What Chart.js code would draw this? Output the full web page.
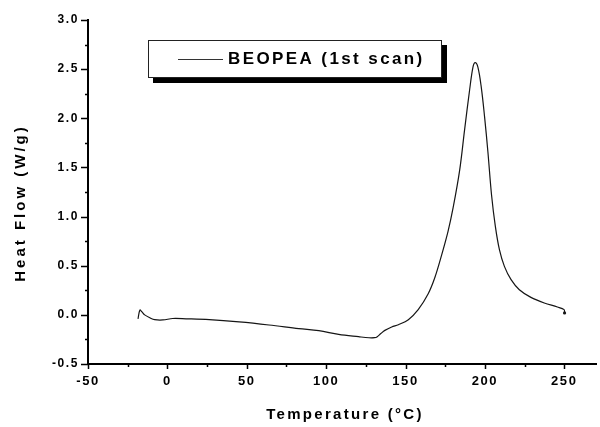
<!DOCTYPE html>
<html>
<head>
<meta charset="utf-8">
<script src="https://cdn.jsdelivr.net/npm/chart.js@4"></script>
<style>
  html,body{margin:0;padding:0;background:#fff;}
  #wrap{width:600px;height:427px;position:relative;}
</style>
</head>
<body>
<div id="wrap"><canvas id="dsc"></canvas></div>
<script>
/* DATA: DSC trace */
const temps = [-18.5, -17.3, -16.0, -14.3, -11.0, -8.0, -2.8, 3.4, 11.8, 26.4, 45.2, 64.0, 82.8, 95.4,
  107.9, 120.4, 127.0, 130.5, 132.0, 134.5, 137.0, 141.3, 145.5, 151.8, 158.0, 164.3, 168.5, 172.6,
  176.8, 180.0, 184.1, 187.2, 190.4, 192.5, 193.9, 195.6, 197.7, 199.8, 201.9, 204.2, 206.6, 209.2,
  212.3, 216.5, 221.7, 229.0, 237.4, 245.7, 249.9, 250.2];
const heatFlow = [-0.04, 0.05, 0.03, 0.0, -0.03, -0.049, -0.052, -0.037, -0.04, -0.049, -0.072, -0.103, -0.14, -0.161,
  -0.198, -0.222, -0.233, -0.232, -0.225, -0.19, -0.158, -0.123, -0.10, -0.049, 0.053, 0.215, 0.38, 0.60,
  0.85, 1.09, 1.47, 1.88, 2.29, 2.52, 2.566, 2.52, 2.32, 2.017, 1.66, 1.22, 0.90, 0.66,
  0.493, 0.358, 0.256, 0.178, 0.121, 0.080, 0.053, 0.02];
const xTicks = [-50, -25, 0, 25, 50, 75, 100, 125, 150, 175, 200, 225, 250];
const yTicks = [-0.5, -0.25, 0, 0.25, 0.5, 0.75, 1.0, 1.25, 1.5, 1.75, 2.0, 2.25, 2.5, 2.75, 3.0];
const seriesLabel = 'BEOPEA (1st scan)';
const xTitle = 'Temperature (\u00B0C)';
const yTitle = 'Heat Flow (W/g)';

const FONT = '"Liberation Sans", Arial, sans-serif';

/* tick marks, titles and boxed legend */
const decor = {
  id: 'decor',
  beforeDraw(chart){
    chart.ctx.letterSpacing = '1.6px';
  },
  afterDraw(chart){
    const {ctx, scales:{x, y}, chartArea:a} = chart;
    ctx.save();
    ctx.strokeStyle = '#000';
    ctx.lineWidth = 1.5;
    ctx.beginPath();
    xTicks.forEach(v=>{
      const px = Math.round(x.getPixelForValue(v)) + 0.5;
      const len = v % 50 === 0 ? 5 : 3;
      ctx.moveTo(px, a.bottom); ctx.lineTo(px, a.bottom + len);
    });
    yTicks.forEach(v=>{
      const py = Math.round(y.getPixelForValue(v)) + 0.5;
      const len = Math.round(v*4) % 2 === 0 ? 7 : 3;
      ctx.moveTo(a.left, py); ctx.lineTo(a.left - len, py);
    });
    ctx.stroke();

    // axis titles
    ctx.fillStyle = '#000';
    ctx.font = 'bold 15px ' + FONT;
    ctx.letterSpacing = '2.3px';
    ctx.textAlign = 'center';
    ctx.textBaseline = 'alphabetic';
    ctx.fillText(xTitle, (a.left + a.right)/2 + 3, 419);
    ctx.save();
    ctx.translate(25, 203);
    ctx.rotate(-Math.PI/2);
    ctx.letterSpacing = '3px';
    ctx.fillText(yTitle, 0, 0);
    ctx.restore();

    // legend box with drop shadow
    const bx = 148, by = 40, bw = 294, bh = 38;
    ctx.fillStyle = '#000';
    ctx.fillRect(bx + 5, by + 5, bw, bh);
    ctx.fillStyle = '#fff';
    ctx.fillRect(bx, by, bw, bh);
    ctx.lineWidth = 1;
    ctx.strokeStyle = '#222';
    ctx.strokeRect(bx + 0.5, by + 0.5, bw - 1, bh - 1);
    ctx.strokeStyle = '#333';
    ctx.beginPath();
    ctx.moveTo(178, 59.5); ctx.lineTo(223, 59.5);
    ctx.stroke();
    ctx.fillStyle = '#000';
    ctx.font = 'bold 17px ' + FONT;
    ctx.letterSpacing = '2.4px';
    ctx.textAlign = 'left';
    ctx.fillText(seriesLabel, 228, 64);
    ctx.restore();
  }
};

const points = temps.map((t, i)=> ({x: t, y: heatFlow[i]}));

new Chart(document.getElementById('dsc'), {
  type: 'line',
  data: {
    datasets: [{
      label: seriesLabel,
      data: points,
      borderColor: '#151515',
      borderWidth: 1.2,
      tension: 0.35,
      pointRadius: points.map((_, i)=> i === points.length - 1 ? 1.6 : 0),
      pointBackgroundColor: '#151515',
      pointBorderWidth: 0,
      fill: false
    }]
  },
  options: {
    responsive: true,
    maintainAspectRatio: false,
    animation: false,
    layout: {padding: {top: 20, right: 0, left: 0, bottom: 0}},
    plugins: {legend: {display: false}, tooltip: {enabled: false}},
    scales: {
      x: {
        type: 'linear',
        min: -50, max: 270,
        afterBuildTicks: (s)=>{ s.ticks = xTicks.map(v=>({value: v})); },
        afterFit: (s)=>{ s.height = 63; },
        grid: {display: false, drawTicks: true, tickLength: 5},
        border: {display: true, color: '#000', width: 2},
        ticks: {
          color: '#000', padding: 5, maxRotation: 0, autoSkip: false,
          font: {family: FONT, size: 13, weight: 'bold'},
          callback: (v)=> v % 50 === 0 ? String(v) : ''
        }
      },
      y: {
        type: 'linear',
        min: -0.5, max: 3.0,
        afterBuildTicks: (s)=>{ s.ticks = yTicks.map(v=>({value: v})); },
        afterFit: (s)=>{ s.width = 88; },
        grid: {display: false, drawTicks: true, tickLength: 7},
        border: {display: true, color: '#000', width: 2},
        ticks: {
          color: '#000', padding: 2, autoSkip: false,
          font: {family: FONT, size: 12, weight: 'bold'},
          callback: (v)=> Math.round(v*4) % 2 === 0 ? v.toFixed(1) : ''
        }
      }
    }
  },
  plugins: [decor]
});
</script>
</body>
</html>
